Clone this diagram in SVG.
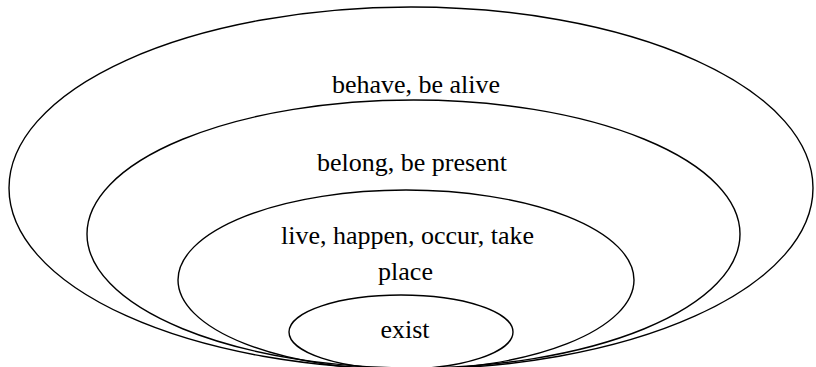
<svg xmlns="http://www.w3.org/2000/svg" width="816" height="367" viewBox="0 0 816 367">
<style>
.shape{fill:none;stroke:#000;stroke-width:1.4}
.lbl{font-family:"Liberation Serif","Times New Roman",serif;font-size:26px;fill:#000;text-anchor:middle}
</style>
<rect width="816" height="367" fill="#fff"/>
<g id="node-behave">
<ellipse class="shape" cx="411" cy="188" rx="402" ry="181"/>
<text class="lbl" x="416" y="93">behave, be alive</text>
</g>
<g id="node-belong">
<ellipse class="shape" cx="413.5" cy="234" rx="326.5" ry="134"/>
<text class="lbl" x="412" y="171">belong, be present</text>
</g>
<g id="node-live">
<ellipse class="shape" cx="406" cy="280" rx="228" ry="90"/>
<text class="lbl" x="407.5" y="244">live, happen, occur, take</text>
<text class="lbl" x="405.5" y="280">place</text>
</g>
<g id="node-exist">
<ellipse class="shape" cx="401" cy="332" rx="112" ry="37"/>
<text class="lbl" x="405" y="338">exist</text>
</g>
<g id="connectors"></g>
</svg>
